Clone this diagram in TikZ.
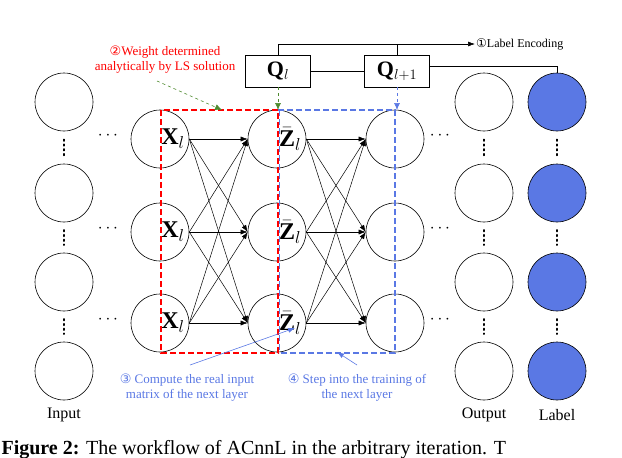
\documentclass[tikz,border=0pt]{standalone}
\usepackage{fontspec}
\setmainfont{Liberation Serif}
\newfontfamily\djv{DejaVu Sans}
\usetikzlibrary{arrows.meta,calc}
\definecolor{myblue}{HTML}{5A78E4}
\definecolor{mygreen}{HTML}{4E8A2E}
\begin{document}
\begin{tikzpicture}[x=1pt,y=-1pt,
  neu/.style={circle,draw,line width=0.6pt,minimum size=58pt,inner sep=0pt},
  lab/.style={neu,fill=myblue},
  con/.style={-{Latex[length=7pt,width=5pt]},line width=0.5pt},
  vd/.style={line width=1.6pt,dash pattern=on 1.6pt off 3.2pt,line cap=round},
  qbox/.style={draw,line width=0.8pt,minimum width=65pt,minimum height=32pt,font=\fontsize{22}{24}\selectfont},
  clab/.style={font=\fontsize{24}{26}\selectfont,inner sep=0pt},
  ann/.style={align=center,font=\fontsize{12}{15}\selectfont}]
\useasboundingbox (0,0) rectangle (622,458);
\begin{scope}
\clip (0,0) rectangle (622,458);
\node[anchor=west,font=\fontsize{20}{24}\selectfont] (cap) at (-2,450) {\textbf{Figure 2:} The workflow of ACnnL in the arbitrary iteration. T};
\end{scope}
% side columns
\foreach \i/\y in {1/102,2/193,3/282,4/371}{
  \node[neu] (in\i) at (64,\y) {};
  \node[neu] (out\i) at (484,\y) {};
  \node[lab] (lb\i) at (557,\y) {};
}
\foreach \a/\b in {1/2,2/3,3/4}{
  \foreach \c in {in,out,lb}{
    \draw[vd] ($(\c\a.south)!0.25!(\c\b.north)$) -- ($(\c\a.south)!0.75!(\c\b.north)$);
  }
}
\node[font=\fontsize{16}{18}\selectfont] (tin) at (64,415) {Input};
\node[font=\fontsize{16}{18}\selectfont] (tout) at (484,415) {Output};
\node[font=\fontsize{16}{18}\selectfont] (tlb) at (557,415) {Label};
% hidden columns
\foreach \i/\y in {1/139,2/232,3/323}{
  \node[neu] (x\i) at (160,\y) {};
  \node[neu] (z\i) at (277,\y) {};
  \node[clab] (xl\i) at (173,\y) {\textbf{X}$_l$};
  \node[clab] (zl\i) at (290,\y) {$\bar{\textbf{Z}}_l$};
  \node[neu] (h\i) at (395,\y) {};
  \node[font=\fontsize{18}{16}\selectfont] (d\i) at (108,\y-3) {$\cdots$};
  \node[font=\fontsize{18}{16}\selectfont] (e\i) at (440,\y-3) {$\cdots$};
}
\foreach \i in {1,2,3}{\foreach \j in {1,2,3}{
  \draw[con] (x\i.east) -- (z\j.west);
  \draw[con] (z\i.east) -- (h\j.west);
}}
% dashed boxes
\draw[red,line width=1.4pt,dash pattern=on 6pt off 3pt] (161,110) rectangle (278,353);
\draw[myblue,line width=1.2pt,dash pattern=on 6pt off 3pt] (278,110) -- (395,110) -- (395,353) -- (278,353);
\draw[myblue,line width=1.2pt,dash pattern=on 6pt off 3pt] (279.5,110) -- (279.5,353);
% Q boxes
\node[qbox] (q1) at (278,71) {\textbf{Q}$_l$};
\node[qbox] (q2) at (397,71) {\textbf{Q}$_{l+1}$};
\coordinate (top1) at (278,44);
\coordinate (le) at (475,44);
\node[anchor=west,inner sep=1pt,font=\fontsize{12}{14}\selectfont] (letext) at (le) {{\djv ①}Label Encoding};
\draw[line width=0.6pt] (q1.north) -- (top1);
\draw[line width=0.6pt,-{Latex[length=7pt,width=5pt]}] (top1) -- (letext.west);
\draw[line width=0.6pt] (q2.north) -- (q2.north |- top1);
\draw[line width=0.6pt] (q1.east) -- (q2.west);
\coordinate (rc) at (557,66);
\draw[line width=0.6pt] (q2.east |- rc) -- (rc) -- (lb1.north);
% green/blue dashed arrows
\coordinate (rtop) at (278,110);
\coordinate (btop) at (397,110);
\draw[mygreen,dashed,line width=0.6pt,-{Latex[length=7pt,width=6pt]}] (q1.south) -- (rtop);
\draw[myblue,dashed,line width=0.6pt,-{Latex[length=7pt,width=6pt]}] (q2.south) -- (btop);
\node[ann,text=red,font=\fontsize{13}{15}\selectfont] (wt) at (165,60) {{\djv ②}Weight determined\\analytically by LS solution};
\coordinate (gt) at (222,110);
\draw[mygreen,dashed,line width=0.6pt,-{Latex[length=7pt,width=6pt]}] (157,81) -- (gt);
% bottom annotations
\node[ann,text=myblue,font=\fontsize{13}{15}\selectfont] (c3) at (187,388) {{\djv ③} Compute the real input\\matrix of the next layer};
\node[ann,text=myblue,font=\fontsize{13}{15}\selectfont] (c4) at (357,388) {{\djv ④} Step into the training of\\the next layer};
\coordinate (t3) at (295,328);
\coordinate (t4) at (337,352);
\draw[myblue,line width=0.6pt,-{Latex[length=7pt,width=5pt]}] (190,365) -- (t3);
\draw[myblue,line width=0.6pt,-{Latex[length=7pt,width=5pt]}] (357,365) -- (t4);
\end{tikzpicture}
\end{document}
